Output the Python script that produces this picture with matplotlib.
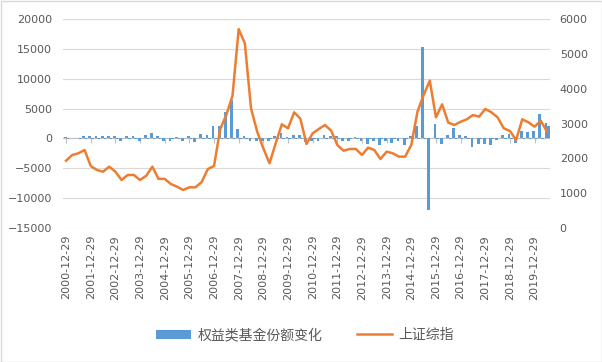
import matplotlib
matplotlib.use('Agg')
import matplotlib.pyplot as plt
import numpy as np
from matplotlib.patches import Rectangle

# ---------------- data ----------------
tick_labels = ['2000-12-29', '2001-12-29', '2002-12-29', '2003-12-29', '2004-12-29',
               '2005-12-29', '2006-12-29', '2007-12-29', '2008-12-29', '2009-12-29',
               '2010-12-29', '2011-12-29', '2012-12-29', '2013-12-29', '2014-12-29',
               '2015-12-29', '2016-12-29', '2017-12-29', '2018-12-29', '2019-12-29']

# quarterly change of equity fund shares (main bar series)
fund_change = [300, 50, 150, 390, 390, 390, 390, 390, 390, -390,
               390, 390, -390, 560, 840, 390, -390, -390, 280, -450,
               390, -560, 730, 650, 2070, 2070, 4480, 6440, 1540, 390,
               -420, -420, -400, -400, 420, 900, 220, 600, 600, -600,
               -390, -390, 560, 420, 390, -390, -390, 220, -390, -900,
               -450, -1150, -450, -800, -450, -1080, 390, 2070, 15300, -12050,
               2350, -950, 560, 1680, 650, 390, -1510, -950, -870, -1180,
               -340, 560, 730, -840, 1230, 1060, 1230, 4090, 2630]

# second (small) bar series shown next to the main bars
fund_change2 = [-120, 0, -100, -150, -120, -150, -100, -150, -120, 0,
                -150, -120, 0, -150, -120, -150, 0, -100, -150, 0,
                -120, 0, -150, -120, -150, -100, -150, -120, -150, -100,
                0, -120, 0, -150, -120, -150, -100, -150, -120, 0,
                -100, 0, -150, -120, -150, 0, -100, -150, 0, -120,
                0, -150, 0, -120, 0, -150, -120, -150, -100, 0,
                -150, 0, -120, -150, -120, -150, 0, -100, 0, -120,
                0, -150, -120, 0, -150, -120, -150, -120, 2050]

# Shanghai composite index (secondary axis)
sh_index = [1932, 2096, 2144, 2239, 1780, 1665, 1617, 1761, 1617, 1378,
            1522, 1522, 1378, 1500, 1761, 1410, 1410, 1263, 1187, 1091,
            1168, 1168, 1321, 1694, 1780, 2840, 3250, 3800, 5710, 5300,
            3436, 2766, 2288, 1857, 2431, 2977, 2862, 3321, 3140, 2412,
            2718, 2842, 2957, 2794, 2383, 2220, 2268, 2268, 2096, 2306,
            2239, 1981, 2191, 2144, 2048, 2048, 2383, 3339, 3819, 4230,
            3178, 3551, 3024, 2957, 3050, 3120, 3244, 3196, 3417, 3321,
            3178, 2862, 2785, 2527, 3120, 3034, 2909, 3081, 2766]

series_names = ['权益类基金份额变化', '上证综指']

# ---------------- plot ----------------
W, H = 602, 362
fig = plt.figure(figsize=(W / 100, H / 100), dpi=100)
fig.patch.set_facecolor('white')

left, right, top, bottom = 63, 550, 19, 228
ax = fig.add_axes([left / W, 1 - bottom / H, (right - left) / W, (bottom - top) / H])

n = len(sh_index)
x = np.arange(n)
blue = '#5B9BD5'
orange = '#ED7D31'
grey_txt = '#595959'

bars = ax.bar(x - 0.15, fund_change, width=0.45, color=blue, zorder=3)
ax.bar(x + 0.27, fund_change2, width=0.38, color=blue, zorder=3)

ymin, ymax = -15000, 20000
ax.set_xlim(-0.5, n - 0.5)
ax.set_ylim(ymin, ymax)
ax.set_yticks(np.arange(ymin, ymax + 1, 5000))
ax.grid(axis='y', color='#d9d9d9', lw=0.8, zorder=0)
ax.set_axisbelow(True)
for s in ax.spines.values():
    s.set_visible(False)
ax.tick_params(axis='y', length=0, labelsize=8, labelcolor=grey_txt, pad=8)

tick_pos = x[::4][:len(tick_labels)]
ax.set_xticks(tick_pos)
ax.set_xticklabels(tick_labels, rotation=90, fontsize=8, color=grey_txt)
ax.tick_params(axis='x', length=0, pad=5)

# category axis line at zero with small tick marks
ax.axhline(0, color='#bfbfbf', lw=0.8, zorder=2)
px_per_unit = (bottom - top) / (ymax - ymin)
ax.vlines(tick_pos, -5 / px_per_unit, 0, color='#bfbfbf', lw=0.8, zorder=2)

ax2 = ax.twinx()
line, = ax2.plot(x, sh_index, color=orange, lw=1.8, zorder=4)
ax2.set_ylim(0, 6000)
ax2.set_yticks(np.arange(0, 6001, 1000))
for s in ax2.spines.values():
    s.set_visible(False)
ax2.tick_params(axis='y', length=0, labelsize=8, labelcolor=grey_txt, pad=7)

fig.legend([bars, line], series_names, loc='center',
           bbox_to_anchor=(305 / W, 1 - 335 / H), ncol=2, frameon=False,
           prop={'family': ['Noto Sans CJK SC', 'DejaVu Sans'], 'size': 10},
           labelcolor=grey_txt, handlelength=2.5, handleheight=0.6,
           columnspacing=2.5, handletextpad=0.5)

fig.patches.append(Rectangle((0.5 / W, 0.5 / H), 1 - 1 / W, 1 - 1 / H,
                             transform=fig.transFigure, fill=False,
                             edgecolor='#d9d9d9', lw=1))

fig.savefig('out.png', dpi=100)
